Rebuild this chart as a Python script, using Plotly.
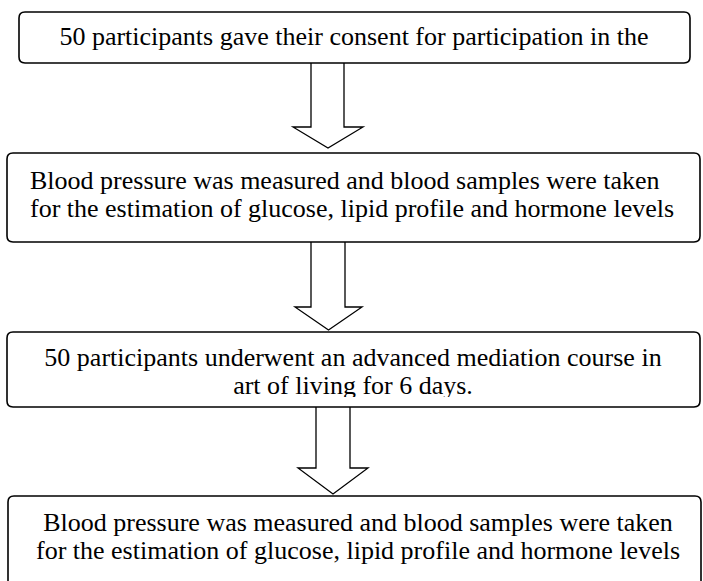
import plotly.graph_objects as go

# ---- content ----
step_texts = [
    ["50 participants gave their consent for participation in the"],
    ["Blood pressure was measured and blood samples were taken",
     "for the estimation of glucose, lipid profile and hormone levels"],
    ["50 participants underwent an advanced mediation course in",
     "art of living for 6 days."],
    ["Blood pressure was measured and blood samples were taken",
     "for the estimation of glucose, lipid profile and hormone levels"],
]
step_align = ["center", "left", "center", "center"]

# ---- layout geometry (page pixels, y downward) ----
W, H = 703, 581
boxes = [  # x0, y0, x1, y1
    (19, 12, 690, 63),
    (7, 153, 700, 242),
    (7, 332, 700, 407),
    (8, 496, 701, 600),
]
text_first_y = [38, 182, 359, 524]
line_gap = [0, 28, 28, 28]
text_x = [354, 30, 353, 358]
clip_below = [None, None, 397, None]

arrows = [  # shaft left, shaft right, head left, head right, head y, tip y
    (311, 344, 293, 363, 127, 148),
    (311, 345, 295, 362, 307, 330),
    (316, 350, 298, 368, 468, 494),
]

FONT = "Liberation Serif"
FS = 26


def rrect(x0, y0, x1, y1, r=6):
    return (f"M{x0+r},{y0} L{x1-r},{y0} Q{x1},{y0} {x1},{y0+r} "
            f"L{x1},{y1-r} Q{x1},{y1} {x1-r},{y1} L{x0+r},{y1} "
            f"Q{x0},{y1} {x0},{y1-r} L{x0},{y0+r} Q{x0},{y0} {x0+r},{y0} Z")


fig = go.Figure()

for i, lines in enumerate(step_texts):
    xs = [text_x[i]] * len(lines)
    ys = [text_first_y[i] + k * line_gap[i] for k in range(len(lines))]
    pos = "middle center" if step_align[i] == "center" else "middle right"
    fig.add_trace(go.Scatter(
        x=xs, y=ys, text=lines, mode="text", textposition=pos,
        textfont=dict(family=FONT, size=FS, color="black"),
        hoverinfo="skip", showlegend=False, cliponaxis=False))

shapes = []
for i, cb in enumerate(clip_below):
    if cb is not None:
        x0, y0, x1, y1 = boxes[i]
        shapes.append(dict(type="rect", x0=x0 + 2, x1=x1 - 2, y0=cb, y1=y1 - 1,
                           fillcolor="white", line=dict(width=0), layer="above"))
for (x0, y0, x1, y1) in boxes:
    shapes.append(dict(type="path", path=rrect(x0, y0, x1, y1),
                       line=dict(color="black", width=1.6), layer="above"))
for i, (sl, sr, hl, hr, hy, ty) in enumerate(arrows):
    top = boxes[i][3]
    tip_x = (hl + hr) / 2
    p = (f"M{sl},{top} L{sl},{hy} L{hl},{hy} L{tip_x},{ty} "
         f"L{hr},{hy} L{sr},{hy} L{sr},{top}")
    shapes.append(dict(type="path", path=p,
                       line=dict(color="black", width=1.3), layer="above"))

fig.update_layout(
    width=W, height=H, margin=dict(l=0, r=0, t=0, b=0),
    paper_bgcolor="white", plot_bgcolor="white",
    xaxis=dict(range=[0, W], visible=False, fixedrange=True),
    yaxis=dict(range=[H, 0], visible=False, fixedrange=True),
    shapes=shapes,
)

fig.write_html(
    "out.html",
    config={"displayModeBar": False},
    post_script="document.body.style.margin='0';document.body.style.overflow='hidden';",
)
